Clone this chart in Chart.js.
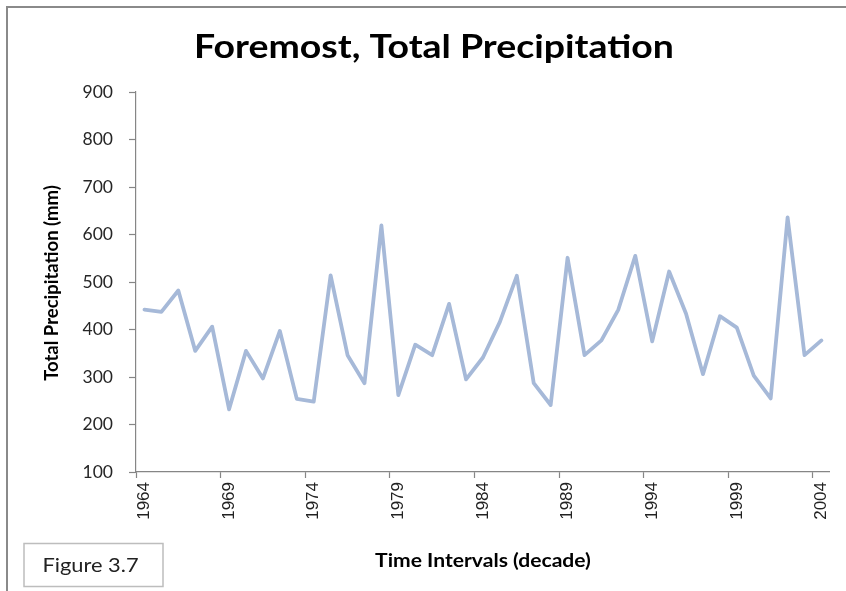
<!DOCTYPE html>
<html>
<head>
<meta charset="utf-8">
<script src="https://cdn.jsdelivr.net/npm/chart.js@4.4.1/dist/chart.umd.min.js"></script>
<style>
  html, body { margin: 0; padding: 0; background: #ffffff; overflow: hidden; }
  #wrap { width: 846px; height: 591px; position: relative; }
  #chart { display: block; }
</style>
</head>
<body>
<div id="wrap"><canvas id="chart" width="846" height="591"></canvas></div>
<script>
// Yearly total precipitation at Foremost, 1964-2004 (mm)
const years = [];
for (let y = 1964; y <= 2004; y++) years.push(String(y));

const precipitation = [
  442, 437, 482, 355, 406, 232, 355, 297, 397, 254,
  248, 514, 346, 287, 619, 262, 368, 346, 454, 295,
  341, 416, 513, 287, 241, 551, 346, 377, 442, 555,
  375, 522, 433, 306, 428, 404, 303, 255, 636, 346,
  377
];

const yTicks = [100, 200, 300, 400, 500, 600, 700, 800, 900];

const chartTitle = 'Foremost, Total Precipitation';
const yTitle = 'Total Precipitation (mm)';
const xTitle = 'Time Intervals (decade)';
const figureLabel = 'Figure 3.7';

const axisGray = '#868686';
const labelEvery = 5;

// Draws text centred at (x, y) and widened horizontally by sx
function wideText(ctx, text, x, y, sx) {
  ctx.save();
  ctx.translate(x, y);
  ctx.scale(sx, 1);
  ctx.fillText(text, 0, 0);
  ctx.restore();
}

// Frame, titles and the figure caption box
const decorations = {
  id: 'decorations',
  beforeDraw(chart) {
    const ctx = chart.ctx;
    ctx.save();
    ctx.fillStyle = '#ffffff';
    ctx.fillRect(0, 0, chart.width, chart.height);
    ctx.restore();
  },
  afterDraw(chart) {
    const ctx = chart.ctx;
    ctx.save();
    // keep the right margin clear
    ctx.fillStyle = '#ffffff';
    ctx.fillRect(837, 9, 9, 582);

    // outer frame (left and top edges)
    ctx.strokeStyle = '#8a8a8a';
    ctx.lineWidth = 2;
    ctx.beginPath();
    ctx.moveTo(7, 591);
    ctx.lineTo(7, 7);
    ctx.lineTo(846, 7);
    ctx.stroke();

    ctx.fillStyle = '#000000';
    ctx.textAlign = 'center';
    ctx.textBaseline = 'alphabetic';

    // chart title
    ctx.font = 'bold 32px Lato';
    wideText(ctx, chartTitle, 434, 58, 1.17);

    // x axis title
    ctx.font = 'bold 19px Lato';
    wideText(ctx, xTitle, 483, 567, 1.11);

    // y axis title
    ctx.save();
    ctx.translate(58, 283);
    ctx.rotate(-Math.PI / 2);
    ctx.font = 'bold 18.5px Lato';
    ctx.fillText(yTitle, 0, 0);
    ctx.restore();

    // figure caption box
    ctx.strokeStyle = '#bdbdbd';
    ctx.lineWidth = 1.5;
    ctx.strokeRect(24, 543.5, 139, 43);
    ctx.fillStyle = '#222222';
    ctx.font = '19.5px Lato';
    wideText(ctx, figureLabel, 90.5, 572, 1.12);
    ctx.restore();
  }
};

new Chart(document.getElementById('chart'), {
  type: 'line',
  data: {
    labels: years,
    datasets: [{
      data: precipitation,
      borderColor: '#a6b9d8',
      borderWidth: 3.8,
      tension: 0,
      pointRadius: 0,
      borderJoinStyle: 'round',
      borderCapStyle: 'round',
      fill: false
    }]
  },
  options: {
    responsive: false,
    animation: false,
    events: [],
    layout: { padding: { top: 92, right: 12, bottom: 0, left: 0 } },
    plugins: {
      legend: { display: false },
      title: { display: false },
      tooltip: { enabled: false }
    },
    scales: {
      x: {
        type: 'category',
        offset: true,
        afterFit(scale) { scale.height = 119; },
        border: { color: axisGray, width: 1.2 },
        grid: {
          offset: true,
          drawOnChartArea: false,
          drawTicks: true,
          tickLength: 6,
          tickColor: (c) => (c.index % labelEvery === 0 ? axisGray : 'rgba(0,0,0,0)'),
          tickWidth: 1.2
        },
        ticks: {
          autoSkip: false,
          maxRotation: 90,
          minRotation: 90,
          padding: 4,
          color: '#222222',
          font: { family: 'Liberation Sans', size: 17 },
          callback: (v, i) => (i % labelEvery === 0 ? years[i] : '')
        }
      },
      y: {
        min: 100,
        max: 900,
        afterFit(scale) { scale.width = 136; },
        afterBuildTicks(scale) { scale.ticks = yTicks.map(v => ({ value: v })); },
        border: { color: axisGray, width: 1.2 },
        grid: {
          drawOnChartArea: false,
          drawTicks: true,
          tickLength: 7,
          tickColor: axisGray,
          tickWidth: 1.2
        },
        ticks: {
          padding: 16,
          color: '#262626',
          font: { family: 'Lato', size: 17.5 }
        }
      }
    }
  },
  plugins: [decorations]
});
</script>
</body>
</html>
